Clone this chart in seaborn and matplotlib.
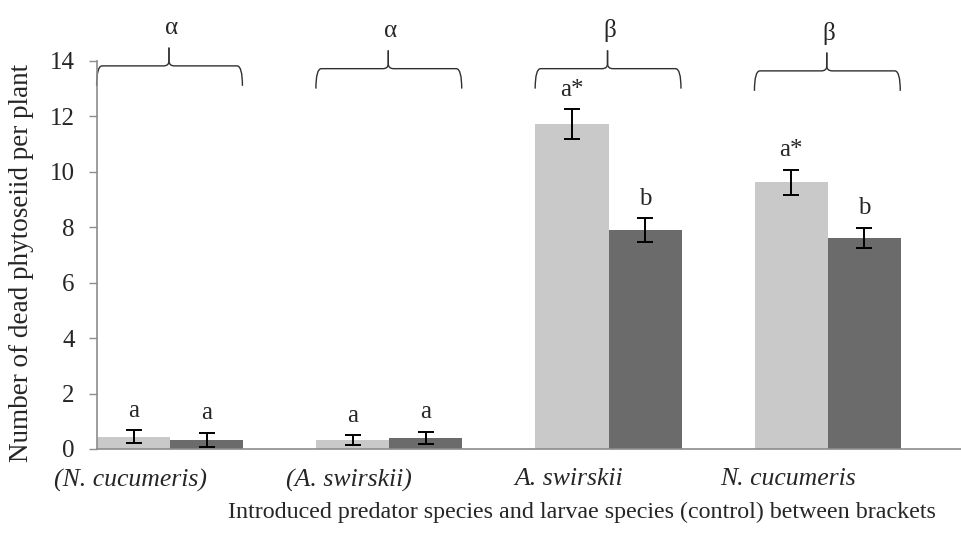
import numpy as np
import pandas as pd
import matplotlib.pyplot as plt
import seaborn as sns
from matplotlib.path import Path
from matplotlib.patches import PathPatch
from matplotlib.transforms import ScaledTranslation

# data
groups = ['(N. cucumeris)', '(A. swirskii)', 'A. swirskii', 'N. cucumeris']
series = ['light', 'dark']
light_means = [0.45, 0.32, 11.72, 9.63]
dark_means = [0.33, 0.40, 7.89, 7.62]
light_err = [0.24, 0.17, 0.55, 0.45]
dark_err = [0.26, 0.23, 0.43, 0.37]
light_letters = ['a', 'a', 'a*', 'a*']
dark_letters = ['a', 'a', 'b', 'b']
brace_labels = ['α', 'α', 'β', 'β']
brace_level = [13.82, 13.72, 13.72, 13.64]

colors = ['#c9c9c9', '#6b6b6b']

df = pd.DataFrame({
    'group': groups * 2,
    'series': ['light'] * 4 + ['dark'] * 4,
    'value': light_means + dark_means,
})

sns.set_style('white')
plt.rcParams['font.family'] = ['Liberation Serif', 'DejaVu Serif']

fig = plt.figure(figsize=(9.61, 5.39), dpi=100)
ax = fig.add_axes([0.101, 0.167, 0.899, 0.720])

sns.barplot(data=df, x='group', y='value', hue='series', order=groups,
            hue_order=series, palette=colors, width=0.667, gap=0,
            errorbar=None, legend=False, ax=ax, saturation=1, linewidth=0)

errs = [light_err, dark_err]
letters = [light_letters, dark_letters]
bar_conts = list(ax.containers)
for k, cont in enumerate(bar_conts):
    for i, bar in enumerate(cont.patches):
        xc = bar.get_x() + bar.get_width() / 2
        h = bar.get_height()
        ax.errorbar(xc, h, yerr=errs[k][i], color='black', capsize=6,
                    elinewidth=1.4, capthick=1.4, fmt='none')
        ax.annotate(letters[k][i], (xc, h + errs[k][i]), xytext=(0, 6),
                    textcoords='offset points', ha='center', va='bottom',
                    fontsize=18)

# curly brackets over each group
dx, dy = 0.025, 0.18
for i, lab in enumerate(brace_labels):
    x0, x1, xm = i - 0.335, i + 0.33, i - 0.005
    yh = brace_level[i]
    yend, ytip = yh - 0.72, yh + 0.66
    for a, s in ((x0, 1), (x1, -1)):
        verts = [(a, yend), (a, yh), (a + s * dx, yh),
                 (xm - s * dx, yh), (xm, yh), (xm, yh + dy), (xm, ytip)]
        codes = [Path.MOVETO, Path.CURVE3, Path.CURVE3, Path.LINETO,
                 Path.CURVE3, Path.CURVE3, Path.LINETO]
        ax.add_patch(PathPatch(Path(verts, codes), fill=False,
                               edgecolor='#303030', lw=1.0, clip_on=False))
    ax.text(xm + 0.01, ytip + 0.7, lab, ha='center', va='center', fontsize=18)

ax.set_xlim(-0.333, 3.607)
ax.set_ylim(0, 14)
ax.set_yticks(np.arange(0, 15, 2))
ax.tick_params(axis='y', labelsize=18, length=6, width=1, color='#8c8c8c',
               direction='out', left=True, pad=10)
ax.tick_params(axis='x', length=0, labelsize=18.5, pad=14)
for t in ax.get_xticklabels():
    t.set_fontstyle('italic')
    t.set_transform(t.get_transform() + ScaledTranslation(-0.40, 0, fig.dpi_scale_trans))

for s in ['top', 'right']:
    ax.spines[s].set_visible(False)
for s in ['left', 'bottom']:
    ax.spines[s].set_color('#8c8c8c')
    ax.spines[s].set_linewidth(1.2)

ax.set_ylabel('Number of dead phytoseiid per plant', fontsize=19.5)
ax.yaxis.set_label_coords(-0.073, 0.48)
ax.set_xlabel('Introduced predator species and larvae species (control) between brackets',
              fontsize=17.3)
ax.xaxis.set_label_coords(0.561, -0.135)

fig.savefig('out.png', dpi=100)
